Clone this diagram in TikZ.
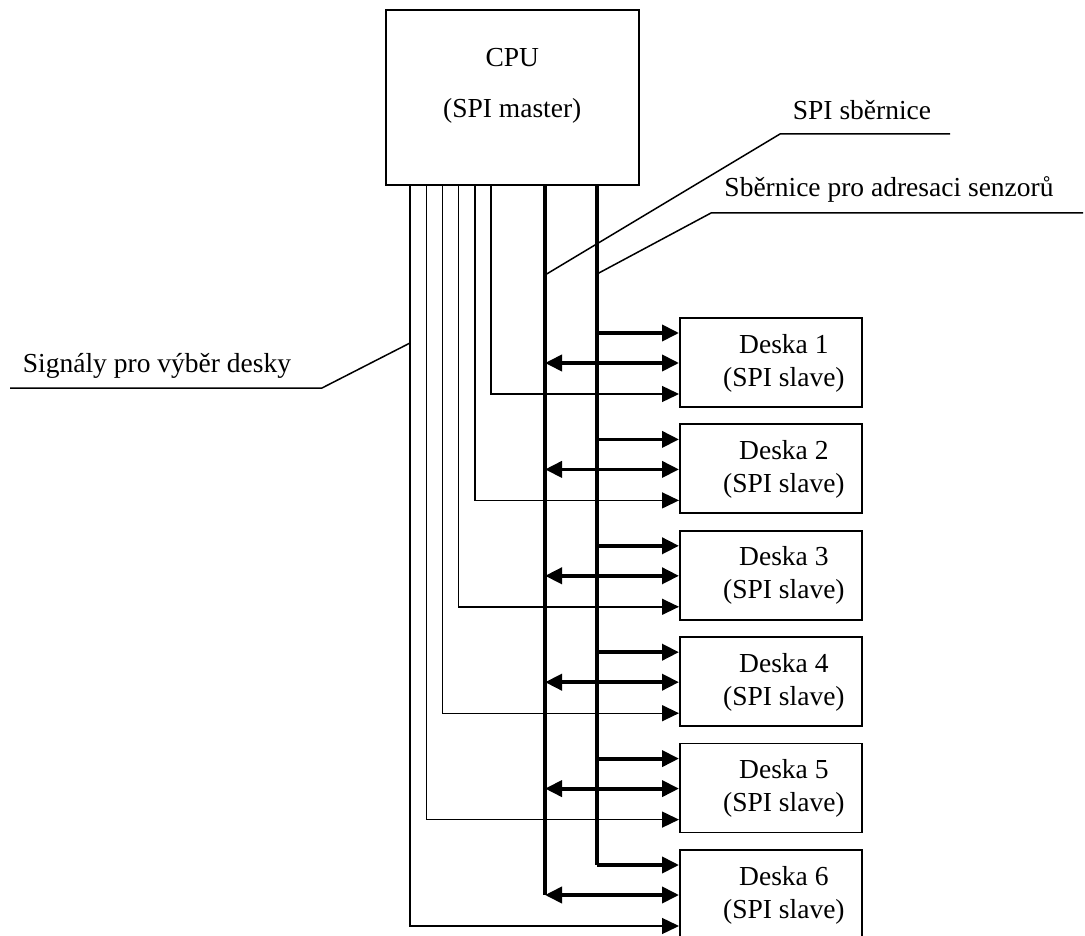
\documentclass[tikz,border=0pt]{standalone}
\usepackage{fontspec}
\setmainfont{Liberation Serif}
\usepackage{tikz}
\usetikzlibrary{arrows.meta,positioning}
\tikzstyle{sigarrow} = [-{Triangle[length=17pt,width=16pt]}]
\tikzstyle{biarrow} = [{Triangle[length=17pt,width=16pt]}-{Triangle[length=17pt,width=16pt]}]
\tikzstyle{bus} = [line width=3.8pt]
\tikzstyle{selline} = [line width=1.4pt]
\tikzstyle{leader} = [line width=1.5pt]
\tikzstyle{cpubox} = [rectangle, draw, line width=1.6pt, minimum width=253pt, minimum height=175pt, inner sep=0pt, anchor=north west]
\tikzstyle{board} = [rectangle, draw, line width=1.8pt, minimum width=182pt, minimum height=89pt, inner sep=0pt, anchor=north west]
\tikzstyle{lbl} = [font=\fontsize{27.5}{33}\selectfont, inner sep=0pt, anchor=base, align=center]

\begin{document}
\begin{tikzpicture}[x=1pt, y=-1pt]
    \clip (0,0) rectangle (1085,936);

    % CPU
    \node[cpubox] (cpu) at (385,9) {};
    \node[lbl] (cputext) at ([yshift=-109pt]cpu.north) {CPU\\[18pt](SPI master)};

    % Boards
    \foreach \i in {1,...,6}{
        \node[board] (deska\i) at (679,{317+106.4*(\i-1)}) {};
        \node[lbl] (desktext\i) at ([xshift=13pt,yshift=-69pt]deska\i.north) {Deska \i\\(SPI slave)};
        \coordinate (a\i) at ([yshift=-16pt]deska\i.north west);
        \coordinate (b\i) at ([yshift=-46pt]deska\i.north west);
        \coordinate (c\i) at ([yshift=-77pt]deska\i.north west);
        \coordinate (s\i) at ({491-16.2*(\i-1)},0);
    }

    % Buses
    \coordinate (spi) at (545,0);
    \coordinate (adr) at (597,0);
    \draw[bus] (spi |- cpu.south) -- (spi |- b6);
    \draw[bus] (adr |- cpu.south) -- (adr |- a6);
    \foreach \i in {1,...,6}{
        \draw[bus, sigarrow] (adr |- a\i) -- (a\i);
        \draw[bus, biarrow] (spi |- b\i) -- (b\i);
        \draw[selline, sigarrow] (s\i |- cpu.south) |- (c\i);
    }

    % Labels
    \node[lbl] (spilabel) at (862,120) {SPI sběrnice};
    \coordinate (spitap) at (545,275);
    \coordinate (spiknee) at (780,134);
    \coordinate (spiend) at (950,134);
    \draw[leader] (spitap) -- (spiknee) -- (spiend);

    \node[lbl] (adrlabel) at (889,197) {Sběrnice pro adresaci senzorů};
    \coordinate (adrtap) at (597,274);
    \coordinate (adrknee) at (711,213);
    \coordinate (adrend) at (1083,213);
    \draw[leader] (adrtap) -- (adrknee) -- (adrend);

    \node[lbl] (sellabel) at (157,372) {Signály pro výběr desky};
    \coordinate (seltap) at (410,343);
    \coordinate (selknee) at (322,388);
    \coordinate (selend) at (10,388);
    \draw[leader] (seltap) -- (selknee) -- (selend);
\end{tikzpicture}
\end{document}
